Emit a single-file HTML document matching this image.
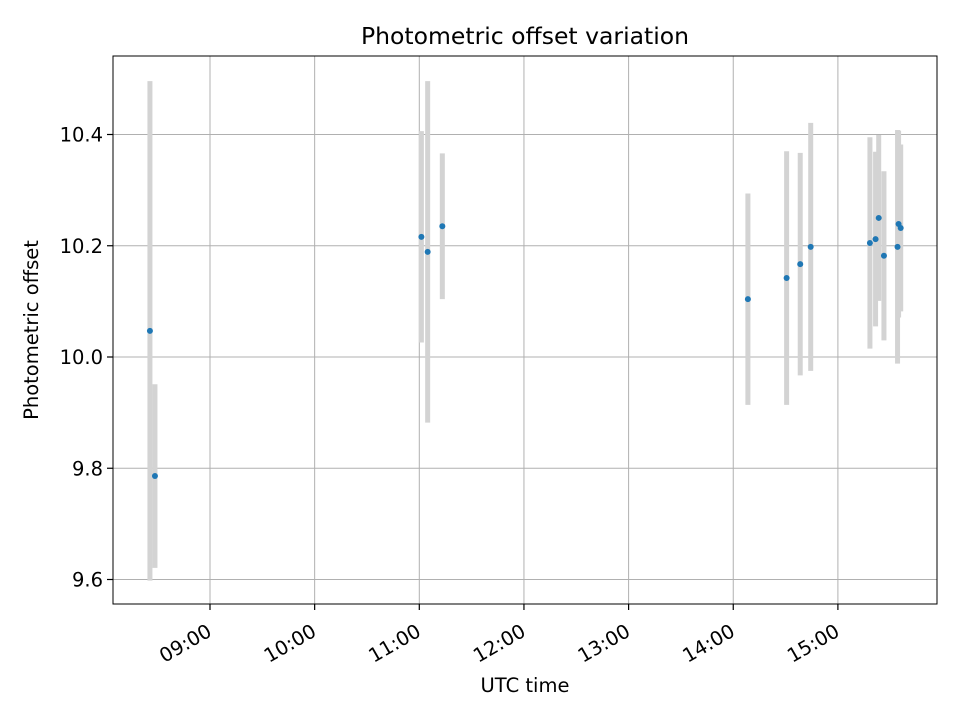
<!DOCTYPE html>
<html><head><meta charset="utf-8"><style>
body{margin:0;background:#fff;font-family:"DejaVu Sans","Liberation Sans",sans-serif}
svg text{font-family:"DejaVu Sans","Liberation Sans",sans-serif}
</style></head><body>
<svg id="chart" width="960" height="720" xmlns="http://www.w3.org/2000/svg">
<rect width="960" height="720" fill="#fff"/>
<text x="525" y="44" font-size="23.5" text-anchor="middle">Photometric offset variation</text>
<text x="525" y="692" font-size="19.5" text-anchor="middle">UTC time</text>
<text x="38" y="330" font-size="19.5" text-anchor="middle" transform="rotate(-90 38 330)">Photometric offset</text>
<g id="grid"></g><g id="bars"></g><g id="pts"></g><g id="ticks"></g>
<rect x="113" y="56" width="824" height="548" fill="none" stroke="#000" stroke-width="1"/>
</svg>
<script>
const times = [8.426,8.474,11.02,11.08,11.22,14.14,14.51,14.64,14.74,15.306,15.36,15.39,15.44,15.57,15.58,15.60];
const offsets = [10.047,9.786,10.216,10.189,10.235,10.104,10.142,10.167,10.198,10.205,10.212,10.25,10.182,10.198,10.239,10.232];
const errors = [0.449,0.165,0.19,0.307,0.131,0.19,0.228,0.2,0.223,0.19,0.157,0.149,0.152,0.21,0.168,0.15];
const xTicks = [9,10,11,12,13,14,15];
const xTickLabels = ["09:00","10:00","11:00","12:00","13:00","14:00","15:00"];
const yTicks = [9.6,9.8,10.0,10.2,10.4];
const yTickLabels = ["9.6","9.8","10.0","10.2","10.4"];
const NS="http://www.w3.org/2000/svg";
const X=t=>210+(t-9)*104.65;
const Y=v=>357-(v-10)*556.25;
function mk(tag,attrs,parent){const e=document.createElementNS(NS,tag);for(const k in attrs)e.setAttribute(k,attrs[k]);document.getElementById(parent).appendChild(e);return e;}
xTicks.forEach((t,i)=>{
 const g=mk('line',{x1:X(t),x2:X(t),y1:56,y2:604,stroke:'#b0b0b0','stroke-width':1},'grid');
 
 
 const tk=mk('line',{x1:X(t),x2:X(t),y1:604,y2:610,stroke:'#000','stroke-width':1.2},'ticks');
 
 
 const ax=X(t)+3, ay=635;
 const tx=mk('text',{x:ax,y:ay,'font-size':19.5,'text-anchor':'end',transform:`rotate(-30 ${ax} ${ay})`},'ticks');
 tx.textContent=xTickLabels[i];
 
 
});
yTicks.forEach((v,i)=>{
 const g=mk('line',{x1:113,x2:937,y1:Y(v),y2:Y(v),stroke:'#b0b0b0','stroke-width':1},'grid');
 
 
 const tk=mk('line',{x1:107,x2:113,y1:Y(v),y2:Y(v),stroke:'#000','stroke-width':1.2},'ticks');
 
 
 const tx=mk('text',{x:103,y:Y(v)+7,'font-size':19.5,'text-anchor':'end'},'ticks');
 tx.textContent=yTickLabels[i];
 
 
});
times.forEach((t,i)=>{
 const b=mk('line',{x1:X(t),x2:X(t),y1:Y(offsets[i]-errors[i]),y2:Y(offsets[i]+errors[i]),stroke:'#d3d3d3','stroke-width':5},'bars');
 
 
 const p=mk('circle',{cx:X(t),cy:Y(offsets[i]),r:3,fill:'#1f77b4'},'pts');
 
 
});
</script>
</body></html>
